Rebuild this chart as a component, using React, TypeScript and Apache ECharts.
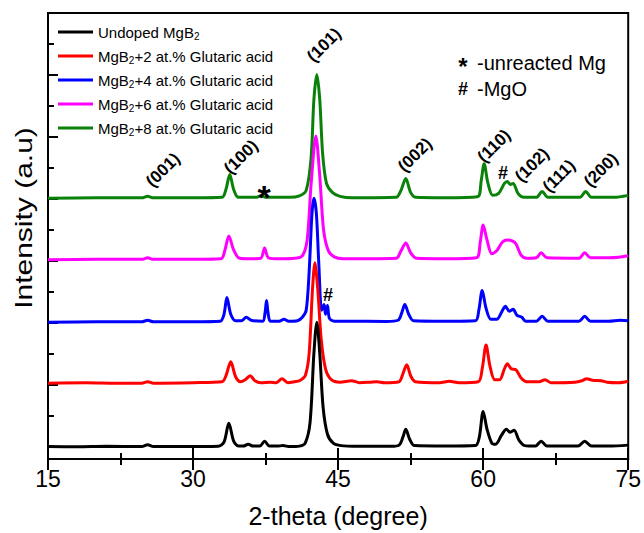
import React, { useEffect, useRef } from "react";
import * as echarts from "echarts";

// 2-theta (degree) vs relative intensity (a.u.) for each sample, before vertical stacking
const SERIES_NAMES = [
  "Undoped MgB2",
  "MgB2+2 at.% Glutaric acid",
  "MgB2+4 at.% Glutaric acid",
  "MgB2+6 at.% Glutaric acid",
  "MgB2+8 at.% Glutaric acid",
];
const SERIES_COLORS = ["#000000", "#ff0000", "#0000ff", "#ff00ff", "#0a820a"];
const STACK_OFFSETS = [12, 76, 138, 201, 263];

const BLACK: [number, number][] = [
  [15, 0.5], [18, 0.3], [21, 0.8], [24.7, 0.5], [25.3, 2.5], [25.9, 0.5], [29, 0.5],
  [32.6, 0.8], [33.2, 5], [33.7, 24], [34.2, 6], [34.7, 1], [35.2, 1], [35.7, 3], [36.2, 1],
  [36.9, 1], [37.4, 6], [37.9, 1], [38.7, 1], [39.3, 1.5], [40.0, 0.5], [41.0, 1], [41.6, 4],
  [42.1, 25], [42.5, 95], [42.8, 126], [43.1, 95], [43.45, 40], [43.9, 13], [44.5, 4],
  [45.3, 1.5], [47, 0.8], [50.5, 0.8], [51.3, 2], [51.7, 10], [52.0, 18], [52.4, 8],
  [52.9, 1.5], [56, 1], [59.2, 1.5], [59.6, 10], [60.0, 36], [60.4, 18], [60.9, 4],
  [61.3, 3], [61.9, 12], [62.4, 18], [62.8, 15], [63.2, 17], [63.7, 7], [64.3, 1.5],
  [65.4, 1], [66.0, 6], [66.6, 1], [69.8, 1], [70.5, 6], [71.2, 1], [73, 1], [75, 2],
];

const RED: [number, number][] = [
  [15, 0.5], [19, 1], [22, 0.5], [24.7, 0.5], [25.3, 2], [25.9, 0.5], [30, 1], [33.0, 2],
  [33.4, 8], [33.9, 22], [34.4, 7], [34.9, 2], [35.4, 4], [35.9, 8], [36.4, 3], [37, 1],
  [38.0, 1.5], [38.6, 1], [39.2, 5], [39.8, 1], [40.5, 2], [41.0, 3], [41.6, 8], [42.0, 30],
  [42.35, 95], [42.6, 122], [42.9, 95], [43.25, 45], [43.7, 15], [44.3, 4], [45.2, 1.5],
  [46.4, 3], [47.2, 1], [48.3, 1.5], [49.0, 2], [49.8, 1], [51.3, 2], [51.7, 10], [52.1, 19],
  [52.5, 8], [53.0, 2], [55.5, 1], [56.5, 2.5], [57.5, 1], [59.5, 2], [59.9, 15], [60.3, 39],
  [60.7, 18], [61.2, 4], [61.7, 4], [62.2, 15], [62.5, 20], [62.9, 15], [63.4, 14],
  [63.9, 6], [64.5, 2], [65.8, 2], [66.4, 4], [67.0, 1], [69.5, 1.5], [70.2, 3], [70.7, 5],
  [71.3, 3.5], [72.2, 3], [72.8, 1.5], [74, 1], [75, 2.5],
];

const BLUE: [number, number][] = [
  [15, 0], [20, 0.5], [24.7, 0.5], [25.3, 2], [25.9, 0.5], [30, 0.5], [32.8, 1], [33.2, 8],
  [33.5, 25], [33.9, 8], [34.4, 1.5], [35.0, 1.5], [35.5, 5], [36.0, 2], [37.2, 1],
  [37.45, 10], [37.6, 22], [37.75, 10], [38.0, 1], [38.9, 1], [39.4, 3], [39.9, 1],
  [40.8, 1.5], [41.3, 5], [41.7, 12], [42.0, 50], [42.3, 110], [42.5, 125], [42.75, 110],
  [43.0, 60], [43.3, 12], [43.55, 18], [43.7, 8], [43.9, 17], [44.1, 4], [44.6, 1], [46, 1],
  [50, 0.8], [51.2, 2], [51.6, 10], [51.9, 18], [52.3, 8], [52.8, 1.5], [56, 1], [59.2, 1.5],
  [59.55, 12], [59.9, 32], [60.3, 14], [60.8, 3], [61.4, 3], [62.0, 12], [62.3, 16],
  [62.7, 11], [63.1, 13], [63.5, 7], [64.0, 5], [64.4, 1], [65.5, 1], [66.1, 6], [66.7, 1],
  [69.9, 1], [70.5, 6], [71.1, 1], [73, 1], [74.2, 2], [75, 1.5],
];

const MAGENTA: [number, number][] = [
  [15, 0], [20, 0.5], [24.7, 0.5], [25.3, 2], [25.9, 0.5], [30, 0.5], [32.9, 1], [33.3, 10],
  [33.7, 24], [34.2, 10], [34.8, 1.5], [36, 1], [37.0, 1.5], [37.4, 12], [37.8, 2], [39, 1],
  [40.5, 1.5], [41.3, 4], [41.8, 20], [42.2, 75], [42.7, 125], [43.1, 85], [43.5, 30],
  [44.0, 9], [44.6, 3], [45.5, 1], [48, 1], [51.0, 1.5], [51.5, 9], [52.0, 17], [52.5, 7],
  [53.1, 1.5], [56, 1], [59.3, 2], [59.7, 18], [60.0, 35], [60.4, 20], [60.9, 6], [61.4, 9],
  [62.0, 18], [62.5, 20], [63.0, 19], [63.4, 16], [63.9, 5], [64.5, 1.5], [65.5, 2],
  [66.0, 7], [66.6, 2], [69.9, 1.5], [70.5, 7], [71.1, 2], [73, 2], [74, 2.5], [75, 4],
];

const GREEN: [number, number][] = [
  [15, 0], [20, 0.5], [24.7, 0.5], [25.3, 2], [25.9, 0.5], [30, 0.5], [33.0, 1], [33.4, 9],
  [33.8, 24], [34.2, 9], [34.7, 1], [36.5, 1], [37.0, 2.5], [37.6, 1], [40, 1], [41.0, 2.5],
  [41.7, 8], [42.2, 40], [42.5, 100], [42.8, 125], [43.1, 100], [43.4, 45], [43.8, 15],
  [44.4, 6], [45.2, 2], [46.5, 0.5], [51.0, 1], [51.5, 8], [52.0, 20], [52.5, 6], [53.0, 1],
  [56, 0.5], [59.4, 1.5], [59.8, 18], [60.1, 35], [60.5, 15], [61.0, 3], [61.6, 5],
  [62.2, 15], [62.5, 17], [62.8, 14], [63.1, 15], [63.6, 5], [64.2, 1], [65.5, 1],
  [66.1, 7], [66.7, 1], [70.0, 1], [70.6, 7], [71.2, 1], [73.5, 1], [75, 3],
];

const RAW = [BLACK, RED, BLUE, MAGENTA, GREEN];

const X_MIN = 15;
const X_MAX = 75;
const X_INTERVAL = 15;
const Y_MAX = 450;
const Y_MAJOR_TICKS = [12.5, 75, 137.5, 200, 262.5, 325, 387.5];
const Y_MINOR_TICKS = [43.75, 106.25, 168.75, 231.25, 293.75, 356.25, 418.75];

const FONT = "'Liberation Sans', Arial, Helvetica, sans-serif";

// peak annotations: [text, x(px), y(px)]
const HKL_LABELS: [string, number, number][] = [
  ["(001)", 163, 170],
  ["(100)", 241, 157],
  ["(101)", 324, 45],
  ["(002)", 415, 155],
  ["(110)", 494, 146],
  ["(102)", 532, 165],
  ["(111)", 559, 176],
  ["(200)", 601, 170],
];

export default function App() {
  const ref = useRef<HTMLDivElement>(null);
  useEffect(() => {
    document.body.style.margin = "0";
    const chart = echarts.init(ref.current!, null, { renderer: "svg" });

    const series = RAW.map((pts, i) => ({
      name: SERIES_NAMES[i],
      type: "line",
      data: pts.map(([x, y]) => [x, y + STACK_OFFSETS[i]]),
      showSymbol: false,
      symbol: "none",
      smooth: 0.3,
      z: 10 - i,
      lineStyle: { color: SERIES_COLORS[i], width: 3 },
      itemStyle: { color: SERIES_COLORS[i] },
      xAxisIndex: 0,
      yAxisIndex: 0,
    }));

    const bold = (text: string, x: number, y: number, fontSize: number, extra: any = {}) => ({
      type: "text", x, y, z: 100,
      style: {
        text, fontSize, fontWeight: "bold", fontFamily: FONT, fill: "#000",
        align: "center", verticalAlign: "middle", ...extra,
      },
    });

    const graphics: any[] = HKL_LABELS.map(([t, x, y]) => ({
      ...bold(t, x, y, 17),
      rotation: Math.PI / 4,
    }));
    graphics.push(
      bold("#", 503, 173, 18),
      bold("#", 328, 295, 18),
      bold("*", 264, 197, 34, { lineHeight: 18 }),
      bold("*", 463, 66, 24, { lineHeight: 14 }),
      bold("#", 463, 89, 18),
      {
        type: "text", x: 477, y: 63, z: 100,
        style: { text: "-unreacted Mg", fontSize: 20, fontFamily: FONT, fill: "#000", align: "left", verticalAlign: "middle" },
      },
      {
        type: "text", x: 477, y: 89, z: 100,
        style: { text: "-MgO", fontSize: 20, fontFamily: FONT, fill: "#000", align: "left", verticalAlign: "middle" },
      },
      {
        type: "text", x: 24, y: 218, z: 100,
        rotation: Math.PI / 2,
        scaleX: 1.25,
        style: { text: "Intensity (a.u)", fontSize: 24, fontFamily: FONT, fill: "#000", align: "center", verticalAlign: "middle" },
      }
    );

    const xAxisCommon = {
      type: "value",
      min: X_MIN,
      max: X_MAX,
      interval: X_INTERVAL,
      axisLine: { show: true, lineStyle: { color: "#000", width: 2 } },
      axisTick: { show: true, inside: true, length: 11, lineStyle: { color: "#000", width: 2 } },
      minorTick: { show: true, splitNumber: 2, length: 6, lineStyle: { color: "#000", width: 2 } },
      splitLine: { show: false },
      minorSplitLine: { show: false },
    };

    chart.setOption({
      animation: false,
      backgroundColor: "#fff",
      textStyle: { fontFamily: FONT },
      grid: {
        left: 48, right: 15, top: 13, bottom: 70,
        show: true, borderColor: "#000", borderWidth: 2, backgroundColor: "transparent",
      },
      legend: {
        show: true,
        orient: "vertical",
        left: 58,
        top: 23,
        padding: 0,
        itemWidth: 35,
        itemHeight: 3,
        itemGap: 6,
        icon: "rect",
        data: SERIES_NAMES,
        formatter: (name: string) => name.replace("MgB2", "MgB{sub|2}"),
        textStyle: {
          fontSize: 15,
          lineHeight: 18,
          color: "#000",
          fontFamily: FONT,
          rich: { sub: { fontSize: 10, lineHeight: 10, verticalAlign: "bottom", color: "#000", fontFamily: FONT } },
        },
      },
      xAxis: [
        {
          ...xAxisCommon,
          position: "bottom",
          axisLabel: { show: true, fontSize: 23, color: "#000", margin: 8, fontFamily: FONT },
          name: "2-theta (degree)",
          nameLocation: "middle",
          nameGap: 44,
          nameTextStyle: { fontSize: 25, color: "#000", fontFamily: FONT },
        },
        {
          ...xAxisCommon,
          position: "top",
          axisLabel: { show: false },
        },
      ],
      yAxis: [
        {
          type: "value",
          min: 0,
          max: Y_MAX,
          position: "left",
          axisLine: { show: true, lineStyle: { color: "#000", width: 2 } },
          axisTick: { show: true, inside: true, length: 10, customValues: Y_MAJOR_TICKS, lineStyle: { color: "#000", width: 2 } },
          axisLabel: { show: false },
          splitLine: { show: false },
        },
        {
          type: "value",
          min: 0,
          max: Y_MAX,
          position: "left",
          axisLine: { show: false },
          axisTick: { show: true, inside: true, length: 6, customValues: Y_MINOR_TICKS, lineStyle: { color: "#000", width: 2 } },
          axisLabel: { show: false },
          splitLine: { show: false },
        },
      ],
      series,
      graphic: graphics,
    });
    return () => chart.dispose();
  }, []);
  return <div ref={ref} style={{ width: 644, height: 533 }} />;
}
